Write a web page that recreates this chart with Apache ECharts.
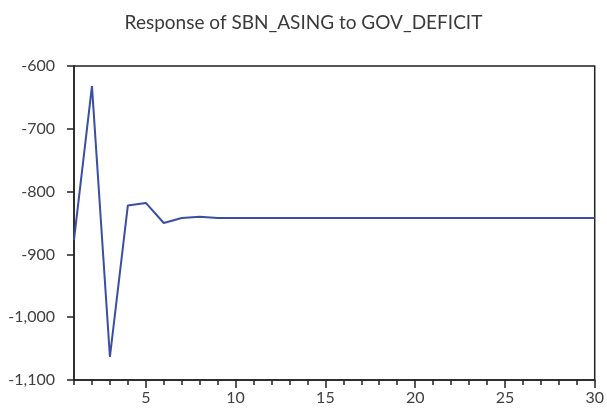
<!DOCTYPE html>
<html>
<head>
<meta charset="utf-8">
<script src="https://cdn.jsdelivr.net/npm/echarts@6/dist/echarts.min.js"></script>
<style>
  html, body { margin: 0; padding: 0; background: #fff; }
  #chart { width: 607px; height: 410px; }
</style>
</head>
<body>
<div id="chart"></div>
<script>
// periods 1..30 and the impulse response values
const periods = Array.from({ length: 30 }, (_, i) => i + 1)
const response = [
  -877, -632, -1063, -822, -818, -850, -842, -840, -842, -842,
  -842, -842, -842, -842, -842, -842, -842, -842, -842, -842,
  -842, -842, -842, -842, -842, -842, -842, -842, -842, -842
]
const majorTicks = [5, 10, 15, 20, 25, 30]

const chart = echarts.init(document.getElementById('chart'))
const font = 'Lato, "Open Sans", sans-serif'

const option = {
  animation: false,
  title: {
    text: 'Response of SBN_ASING to GOV_DEFICIT',
    left: 'center',
    top: 8,
    textStyle: { fontFamily: font, fontSize: 19, fontWeight: 'normal', color: '#3a3a3a' }
  },
  grid: {
    left: 74, right: 9, top: 66, bottom: 30,
    show: true, borderColor: '#222', borderWidth: 1.5
  },
  xAxis: [
    {
      type: 'value', min: 1, max: 30,
      axisLine: { lineStyle: { color: '#222', width: 1.5 } },
      axisTick: { customValues: majorTicks, length: 8, lineStyle: { color: '#222', width: 1.5 } },
      axisLabel: { customValues: majorTicks, fontFamily: font, fontSize: 16, color: '#404040', margin: 10 },
      splitLine: { show: false }
    },
    {
      type: 'value', min: 1, max: 30, position: 'bottom',
      axisLine: { show: false },
      axisTick: { customValues: periods, length: 5, lineStyle: { color: '#222', width: 1.5 } },
      axisLabel: { show: false },
      splitLine: { show: false }
    }
  ],
  yAxis: {
    type: 'value', min: -1100, max: -600, interval: 100,
    axisLine: { show: true, lineStyle: { color: '#222', width: 1.5 } },
    axisTick: { show: true, length: 7, lineStyle: { color: '#222', width: 1.5 } },
    axisLabel: {
      fontFamily: font, fontSize: 16, color: '#404040', margin: 19,
      formatter: v => v.toLocaleString('en-US')
    },
    splitLine: { show: false }
  },
  series: [
    {
      type: 'line',
      data: periods.map((p, i) => [p, response[i]]),
      showSymbol: false,
      lineStyle: { color: '#3a4ea3', width: 2 }
    }
  ]
}

chart.setOption(option)
</script>
</body>
</html>
